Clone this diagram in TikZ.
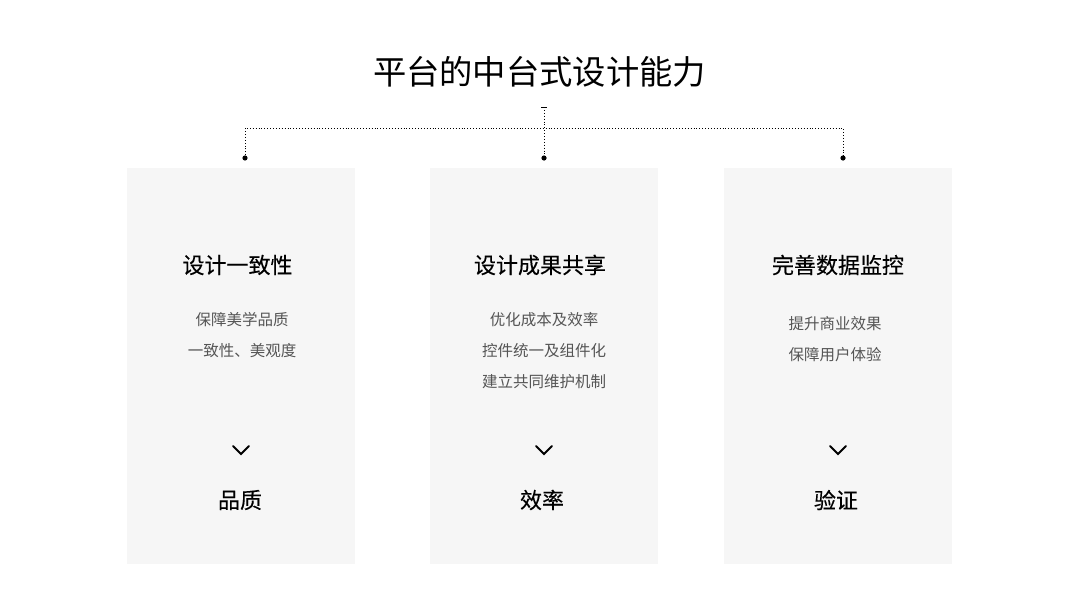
\documentclass[tikz,border=0pt]{standalone}
\usepackage{fontspec}
\setmainfont{Noto Sans CJK SC}
\newfontfamily\cjk{Noto Sans CJK SC}
\newfontfamily\cjkmed[FakeBold=0.3]{Noto Sans CJK SC}
\begin{document}
\begin{tikzpicture}[x=1pt,y=-1pt,
  panel/.style={fill=panelgray,draw=none},
  headtxt/.style={font=\cjkmed\fontsize{22}{26}\selectfont,text=black,inner sep=0pt},
  subtxt/.style={font=\cjk\fontsize{15.5}{18}\selectfont,text=subgray,inner sep=0pt},
  dotline/.style={dotted,line width=0.9pt,black},
  chev/.style={line width=1.8pt,black,line cap=round,line join=miter}]
\definecolor{panelgray}{HTML}{F6F6F6}
\definecolor{subgray}{HTML}{555555}
\useasboundingbox (0,0) rectangle (1080,608);
\fill[white] (0,0) rectangle (1080,608);

\node[font=\cjk\fontsize{33.3}{38}\selectfont,inner sep=0pt] (title) at (539.5,72) {平台的中台式设计能力};

% panels
\fill[panel] (127,168) rectangle (355,564);
\fill[panel] (430,168) rectangle (658,564);
\fill[panel] (724,168) rectangle (952,564);

% connectors
\coordinate (top) at (544,107);
\coordinate (mid) at (544,128);
\coordinate (lcorner) at (245,128);
\coordinate (rcorner) at (843,128);
\coordinate (ldot) at (245,158);
\coordinate (mdot) at (544,158);
\coordinate (rdot) at (843,158);
\draw[line width=1pt] (541,107) -- (547,107);
\draw[dotline] (top) -- (mdot);
\draw[dotline] (ldot) -- (lcorner) -- (rcorner) -- (rdot);
\fill (ldot) circle (2.6);
\fill (mdot) circle (2.6);
\fill (rdot) circle (2.6);

% left
\node[headtxt] (h1) at (237.5,265) {设计一致性};
\node[subtxt] (a1) at (242,320) {保障美学品质};
\node[subtxt] (a2) at (242,351) {一致性、美观度};
\draw[chev] (233,446) -- (241,454) -- (249,446);
\node[headtxt] (r1) at (240,500) {品质};

% middle
\node[headtxt] (h2) at (540,265) {设计成果共享};
\node[subtxt] (b1) at (544,320) {优化成本及效率};
\node[subtxt] (b2) at (544,351) {控件统一及组件化};
\node[subtxt] (b3) at (544,382) {建立共同维护机制};
\draw[chev] (536,446) -- (544,454) -- (552,446);
\node[headtxt] (r2) at (542,500) {效率};

% right
\node[headtxt] (h3) at (838,265) {完善数据监控};
\node[subtxt] (c1) at (835,324) {提升商业效果};
\node[subtxt] (c2) at (835,355) {保障用户体验};
\draw[chev] (830,446) -- (838,454) -- (846,446);
\node[headtxt] (r3) at (836,500) {验证};
\end{tikzpicture}
\end{document}
